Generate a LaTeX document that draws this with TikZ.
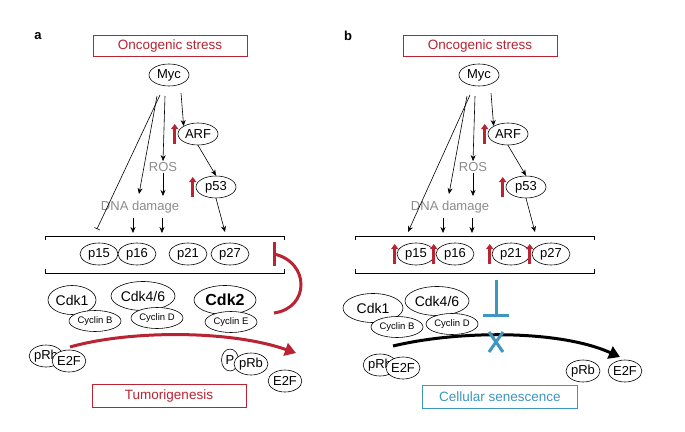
\documentclass[tikz,border=0pt]{standalone}
\usepackage{fontspec}
\setmainfont{Liberation Sans}
\usetikzlibrary{shapes.geometric,arrows.meta,calc}
\definecolor{rd}{RGB}{185,35,50}
\definecolor{bl}{RGB}{60,150,190}
\definecolor{gy}{RGB}{140,140,140}
\begin{document}
\begin{tikzpicture}[x=1pt,y=-1pt,line width=0.6pt,
 el/.style={ellipse,draw,inner sep=0,minimum width=#1,minimum height=22,font=\fontsize{13}{13}\selectfont,fill=white},
 el/.default=38,
 cy/.style={ellipse,draw,inner sep=0,minimum width=52,minimum height=21,font=\fontsize{9.5}{9.5}\selectfont,fill=white},
 cdk/.style={ellipse,draw,inner sep=0,minimum width=#1,minimum height=29,font=\fontsize{14}{14}\selectfont},
 rbox/.style={draw=rd,minimum width=154,minimum height=21,inner sep=0,text=rd,font=\fontsize{13.5}{14}\selectfont},
 bbox/.style={draw=bl,minimum width=155,minimum height=23,inner sep=0,text=bl,font=\fontsize{13.5}{14}\selectfont},
 gt/.style={text=gy,font=\fontsize{13}{13}\selectfont,inner sep=1},
 ar/.style={-{Stealth[length=6pt,width=5pt]}},
 up/.style={rd,line width=2.8pt,-{Triangle[length=5pt,width=7pt]}},
 lbl/.style={font=\bfseries\fontsize{13}{13}\selectfont}]
\useasboundingbox (0,0) rectangle (685,431);
\fill[white] (0,0) rectangle (685,431);
% ---------- panel a
\node[lbl] (la) at (38,36) {a};
\node[rbox] (osa) at (170,46) {Oncogenic stress};
\node[el=40] (myca) at (169,75) {Myc};
\node[el=40] (arfa) at (198,134) {ARF};
\node[gt] (rosa) at (163,167) {ROS};
\node[el=40] (p53a) at (216,187) {p53};
\node[gt] (dnaa) at (140,207) {DNA damage};
\draw[up] ([xshift=-3pt,yshift=-10pt]arfa.west) -- ++(0pt,20pt);
\draw[up] ([xshift=-3pt,yshift=-10pt]p53a.west) -- ++(0pt,20pt);
\coordinate (ta) at (97,229);
\coordinate (d1a) at (133,233); \coordinate (d2a) at (162,233); \coordinate (d3a) at (225,232);
\draw[-{Bar[width=6pt]}] (160,95) -- (ta);
\draw[ar] (157,96) -- (139,194);
\draw[ar] (165,96) -- (rosa.north);
\draw[ar] (181,93) -- (arfa.north west);
\draw[ar] (arfa.south) -- (p53a.north);
\draw[ar] (rosa.south) -- (163,196);
\draw[ar] (133,218) -- (d1a);
\draw[ar] (162,218) -- (d2a);
\draw[ar] (p53a.south) -- (d3a);
\draw (45,240) -- (45,236) -- (284,236) -- (284,240);
\draw (45,269) -- (45,273) -- (284,273) -- (284,269);
\node[el] (p15a) at (99,254) {p15};
\node[el] (p16a) at (137,254) {p16};
\node[el] (p21a) at (188,254) {p21};
\node[el] (p27a) at (230,254) {p27};
\node[cdk=48] (cdk1a) at (72,300) {Cdk1};
\node[cdk=64] (cdk4a) at (143,296) {Cdk4/6};
\node[cdk=62,font=\bfseries\fontsize{16}{16}\selectfont] (cdk2a) at (225,300) {Cdk2};
\node[cy] (cba) at (95,321) {Cyclin B};
\node[cy] (cda) at (157,318) {Cyclin D};
\node[cy] (cea) at (231,322) {Cyclin E};
\coordinate (ia) at (274,254);
\coordinate (ib) at (274,313);
\draw[rd,line width=3pt] (274,242) -- (274,266);
\draw[rd,line width=3pt] (ia) .. controls (310,262) and (310,308) .. (ib);
\node[el=28] (rb1a) at (46,356) {pRb};
\node[el=32] (e21a) at (69,361) {E2F};
\node[el=17] (pa) at (230,360) {P};
\node[el=34] (rb2a) at (251,364) {pRb};
\node[el=32] (e22a) at (285,381) {E2F};
\coordinate (sa) at (70,347);
\coordinate (ea) at (296,353);
\draw[rd,line width=3pt,-{Triangle[length=11pt,width=13pt]}] (sa) .. controls (130,330) and (230,330) .. (ea);
\node[rbox,minimum height=23] (tum) at (169,396) {Tumorigenesis};
% ---------- panel b
\node[lbl] (lb) at (348,36) {b};
\node[rbox] (osb) at (480,46) {Oncogenic stress};
\node[el=40] (mycb) at (479,75) {Myc};
\node[el=40] (arfb) at (508,134) {ARF};
\node[gt] (rosb) at (473,167) {ROS};
\node[el=40] (p53b) at (526,187) {p53};
\node[gt] (dnab) at (450,207) {DNA damage};
\draw[up] ([xshift=-3pt,yshift=-10pt]arfb.west) -- ++(0pt,20pt);
\draw[up] ([xshift=-3pt,yshift=-10pt]p53b.west) -- ++(0pt,20pt);
\coordinate (tb) at (408,232);
\coordinate (d1b) at (443,233); \coordinate (d2b) at (472,233); \coordinate (d3b) at (535,232);
\draw[ar] (470,95) -- (tb);
\draw[ar] (467,96) -- (449,194);
\draw[ar] (475,96) -- (rosb.north);
\draw[ar] (491,93) -- (arfb.north west);
\draw[ar] (arfb.south) -- (p53b.north);
\draw[ar] (rosb.south) -- (473,196);
\draw[ar] (443,218) -- (d1b);
\draw[ar] (472,218) -- (d2b);
\draw[ar] (p53b.south) -- (d3b);
\draw (355,240) -- (355,236) -- (594,236) -- (594,240);
\draw (355,269) -- (355,273) -- (594,273) -- (594,269);
\node[el] (p15b) at (416,254) {p15};
\node[el] (p16b) at (455,254) {p16};
\node[el] (p21b) at (511,254) {p21};
\node[el] (p27b) at (551,254) {p27};
\foreach \n in {p15b,p16b,p21b,p27b}
  \draw[up] ([xshift=-2pt,yshift=-10pt]\n.west) -- ++(0pt,20pt);
\node[cdk=60] (cdk1b) at (373,308) {Cdk1};
\node[cdk=64] (cdk4b) at (437,301) {Cdk4/6};
\node[cy] (cbb) at (397,327) {Cyclin B};
\node[cy] (cdb) at (452,324) {Cyclin D};
\coordinate (tbt) at (496,280);
\coordinate (tbb) at (496,315);
\draw[bl,line width=3pt] (tbt) -- (tbb);
\draw[bl,line width=3pt] (483,315) -- (509,315);
\node[el=30] (rb1b) at (380,365) {pRb};
\node[el=34] (e21b) at (403,368) {E2F};
\node[el=34] (rb2b) at (583,371) {pRb};
\node[el=32] (e22b) at (625,371) {E2F};
\coordinate (sb) at (393,346);
\coordinate (eb) at (620,357);
\draw[line width=3pt,-{Triangle[length=11pt,width=13pt]}] (sb) .. controls (460,330) and (560,330) .. (eb);
\coordinate (xc) at (496,342);
\draw[bl,line width=3pt] ($(xc)+(-7,-10)$) -- ($(xc)+(7,10)$);
\draw[bl,line width=3pt] ($(xc)+(7,-10)$) -- ($(xc)+(-7,10)$);
\node[bbox] (sen) at (500,397) {Cellular senescence};
\end{tikzpicture}
\end{document}
